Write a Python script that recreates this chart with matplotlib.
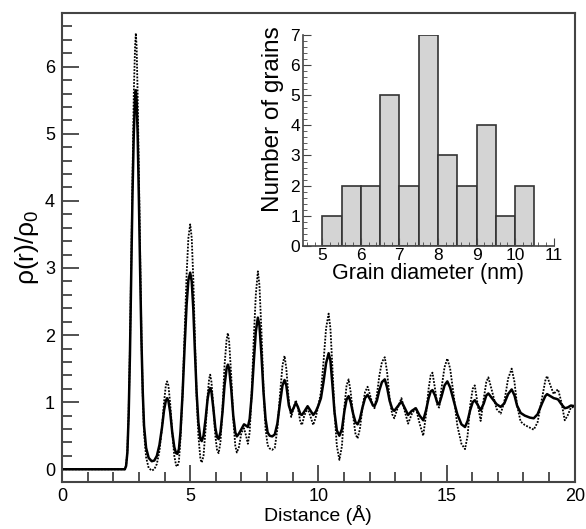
import matplotlib
matplotlib.use("Agg")
import matplotlib.pyplot as plt
from matplotlib.ticker import MultipleLocator

plt.rcParams['font.family'] = ['Liberation Sans', 'DejaVu Sans']
plt.rcParams['mathtext.fontset'] = 'custom'
plt.rcParams['mathtext.rm'] = 'Liberation Sans'

# ---- main curves: rho(r)/rho0 versus distance ----
r = [0.0, 2.45, 2.50, 2.55, 2.60, 2.65, 2.70, 2.75, 2.80, 2.85,
     2.88, 2.91, 2.95, 3.00, 3.05, 3.10, 3.15, 3.20, 3.28, 3.38,
     3.50, 3.60, 3.70, 3.80, 3.90, 3.98, 4.05, 4.10, 4.15, 4.22,
     4.30, 4.38, 4.45, 4.50, 4.56, 4.62, 4.70, 4.78, 4.86, 4.93,
     5.00, 5.06, 5.12, 5.18, 5.25, 5.32, 5.40, 5.45, 5.52, 5.60,
     5.68, 5.74, 5.78, 5.83, 5.90, 5.98, 6.05, 6.11, 6.18, 6.26,
     6.34, 6.42, 6.47, 6.52, 6.60, 6.68, 6.76, 6.82, 6.90, 7.00,
     7.10, 7.18, 7.25, 7.32, 7.40, 7.48, 7.56, 7.64, 7.70, 7.78,
     7.86, 7.94, 8.02, 8.10, 8.20, 8.30, 8.40, 8.50, 8.60, 8.68,
     8.75, 8.85, 8.94, 9.04, 9.12, 9.20, 9.30, 9.36, 9.45, 9.58,
     9.68, 9.80, 9.90, 10.00, 10.10, 10.20, 10.30, 10.40, 10.47, 10.55,
     10.63, 10.72, 10.82, 10.92, 11.02, 11.10, 11.18, 11.26, 11.36, 11.45,
     11.53, 11.62, 11.72, 11.82, 11.92, 12.02, 12.12, 12.19, 12.28, 12.38,
     12.48, 12.59, 12.68, 12.78, 12.88, 12.96, 13.08, 13.24, 13.36, 13.50,
     13.64, 13.80, 13.95, 14.09, 14.20, 14.30, 14.38, 14.45, 14.55, 14.64,
     14.71, 14.80, 14.92, 15.03, 15.14, 15.28, 15.42, 15.58, 15.72, 15.82,
     15.92, 16.02, 16.10, 16.20, 16.33, 16.45, 16.55, 16.63, 16.75, 16.95,
     17.11, 17.25, 17.40, 17.54, 17.65, 17.75, 17.89, 18.05, 18.25, 18.40,
     18.55, 18.72, 18.85, 18.92, 19.05, 19.18, 19.28, 19.35, 19.48, 19.61,
     19.72, 19.85, 20.0]

g_solid = [0, 0, 0.05, 0.25, 0.8, 1.7, 2.9, 4.1, 5.0, 5.55,
           5.65, 5.5, 5.0, 4.0, 2.9, 1.9, 1.15, 0.65, 0.32, 0.17,
           0.12, 0.13, 0.2, 0.36, 0.62, 0.88, 1.02, 1.06, 1.02, 0.85,
           0.55, 0.33, 0.24, 0.23, 0.3, 0.55, 1.1, 1.8, 2.45, 2.82,
           2.93, 2.8, 2.4, 1.8, 1.15, 0.7, 0.45, 0.42, 0.5, 0.75,
           1.05, 1.18, 1.21, 1.15, 0.92, 0.62, 0.48, 0.45, 0.55, 0.85,
           1.25, 1.5, 1.56, 1.5, 1.2, 0.8, 0.55, 0.49, 0.53, 0.6,
           0.67, 0.65, 0.63, 0.75, 1.1, 1.6, 2.05, 2.26, 2.15, 1.7,
           1.15, 0.75, 0.55, 0.5, 0.49, 0.52, 0.68, 0.98, 1.25, 1.33,
           1.25, 0.95, 0.84, 0.92, 0.99, 0.93, 0.82, 0.81, 0.86, 0.94,
           0.88, 0.81, 0.86, 0.95, 1.06, 1.3, 1.58, 1.73, 1.62, 1.25,
           0.85, 0.58, 0.5, 0.6, 0.88, 1.04, 1.09, 1.0, 0.82, 0.7,
           0.67, 0.75, 0.92, 1.06, 1.11, 1.04, 0.96, 0.94, 1.02, 1.18,
           1.3, 1.34, 1.22, 1.02, 0.9, 0.87, 0.93, 1.01, 0.92, 0.81,
           0.87, 0.91, 0.8, 0.73, 0.88, 1.06, 1.16, 1.18, 1.1, 0.99,
           0.97, 1.08, 1.25, 1.31, 1.22, 1.02, 0.82, 0.67, 0.63, 0.72,
           0.88, 1.0, 1.03, 0.97, 0.88, 0.98, 1.1, 1.13, 1.07, 0.97,
           0.93, 0.98, 1.12, 1.19, 1.1, 0.95, 0.84, 0.8, 0.77, 0.76,
           0.82, 0.98, 1.09, 1.12, 1.09, 1.06, 1.05, 1.04, 0.97, 0.91,
           0.92, 0.95, 0.94]

g_dotted = [0, 0, 0.05, 0.27, 0.85, 1.8, 3.1, 4.5, 5.6, 6.3,
            6.5, 6.3, 5.6, 4.4, 3.1, 1.95, 1.1, 0.55, 0.18, 0.02,
            -0.02, 0.0, 0.08, 0.27, 0.62, 1.0, 1.25, 1.31, 1.25, 0.98,
            0.55, 0.2, 0.06, 0.04, 0.12, 0.45, 1.1, 2.0, 2.9, 3.45,
            3.65, 3.45, 2.85, 2.0, 1.1, 0.5, 0.15, 0.10, 0.2, 0.6,
            1.1, 1.35, 1.41, 1.3, 0.95, 0.5, 0.28, 0.24, 0.4, 0.9,
            1.55, 1.93, 2.03, 1.9, 1.4, 0.75, 0.35, 0.25, 0.33, 0.55,
            0.61, 0.5, 0.38, 0.55, 1.15, 1.95, 2.6, 2.95, 2.75, 2.05,
            1.2, 0.6, 0.36, 0.31, 0.29, 0.32, 0.6, 1.1, 1.55, 1.69,
            1.5, 1.0, 0.78, 0.92, 1.03, 0.92, 0.7, 0.66, 0.8, 0.91,
            0.8, 0.66, 0.78, 0.95, 1.15, 1.6, 2.1, 2.32, 2.1, 1.5,
            0.85, 0.35, 0.14, 0.35, 0.95, 1.25, 1.34, 1.15, 0.78, 0.52,
            0.46, 0.6, 0.92, 1.15, 1.23, 1.1, 0.95, 0.91, 1.1, 1.4,
            1.6, 1.67, 1.45, 1.05, 0.82, 0.76, 0.9, 1.06, 0.88, 0.68,
            0.82, 0.92, 0.68, 0.5, 0.82, 1.2, 1.4, 1.44, 1.2, 0.95,
            0.92, 1.2, 1.52, 1.65, 1.5, 1.1, 0.65, 0.38, 0.3, 0.5,
            0.95, 1.2, 1.25, 1.0, 0.72, 1.05, 1.3, 1.37, 1.2, 0.9,
            0.83, 1.0, 1.35, 1.5, 1.3, 0.95, 0.71, 0.66, 0.62, 0.59,
            0.7, 1.05, 1.32, 1.39, 1.25, 1.12, 1.17, 1.19, 1.0, 0.73,
            0.8, 0.92, 0.93]

# ---- inset histogram: grain diameters (nm) ----
bin_left = [5.0, 5.5, 6.0, 6.5, 7.0, 7.5, 8.0, 8.5, 9.0, 9.5, 10.0]
grain_counts = [1, 2, 2, 5, 2, 7, 3, 2, 4, 1, 2]
bin_width = 0.5

fig = plt.figure(figsize=(5.86, 5.29), dpi=100)
ax = fig.add_axes([0.1058, 0.0888, 0.875, 0.8866])
ax.plot(r, g_dotted, color='black', lw=1.3, ls=(0, (1, 0.8)))
ax.plot(r, g_solid, color='black', lw=1.8)
ax.set_xlim(0, 20)
ax.set_ylim(-0.19, 6.8)
ax.xaxis.set_major_locator(MultipleLocator(5))
ax.xaxis.set_minor_locator(MultipleLocator(1))
ax.yaxis.set_major_locator(MultipleLocator(1))
ax.yaxis.set_minor_locator(MultipleLocator(0.2))
ax.tick_params(which='both', direction='in', top=False, right=False, labelsize=13, color='#333333', width=1.2)
ax.tick_params(which='major', length=12, pad=5)
ax.tick_params(axis='x', which='major', pad=4)
ax.tick_params(which='minor', length=7)
for s in ax.spines.values():
    s.set_color('#444444')
    s.set_linewidth(1.5)
ax.set_xlabel('Distance (Å)', fontsize=14)
ax.xaxis.set_label_coords(0.5, -0.05)
ax.set_ylabel(r'ρ(r)/ρ$_\mathregular{0}$', fontsize=19, labelpad=3)

ins = fig.add_axes([0.517, 0.5355, 0.428, 0.398])
ins.bar(bin_left, grain_counts, width=bin_width, align='edge', color='#d4d4d4', edgecolor='#333333', linewidth=1.2)
ins.set_xlim(4.5, 11)
ins.set_ylim(0, 7)
ins.spines['top'].set_visible(False)
ins.spines['right'].set_visible(False)
for s in ('left', 'bottom'):
    ins.spines[s].set_color('#444444')
    ins.spines[s].set_linewidth(1.2)
ins.xaxis.set_major_locator(MultipleLocator(1))
ins.xaxis.set_minor_locator(MultipleLocator(0.2))
ins.yaxis.set_major_locator(MultipleLocator(1))
ins.yaxis.set_minor_locator(MultipleLocator(0.2))
ins.tick_params(which='both', direction='in', labelsize=12.5, color='#444444')
ins.tick_params(which='major', length=6, pad=2)
ins.tick_params(which='minor', length=3)
ins.set_xlabel('Grain diameter (nm)', fontsize=15.5, labelpad=0)
ins.set_ylabel('Number of grains', fontsize=17.5)
ins.yaxis.set_label_coords(-0.075, 0.60)
ins.patch.set_alpha(0)

fig.savefig('out.png', dpi=100)
